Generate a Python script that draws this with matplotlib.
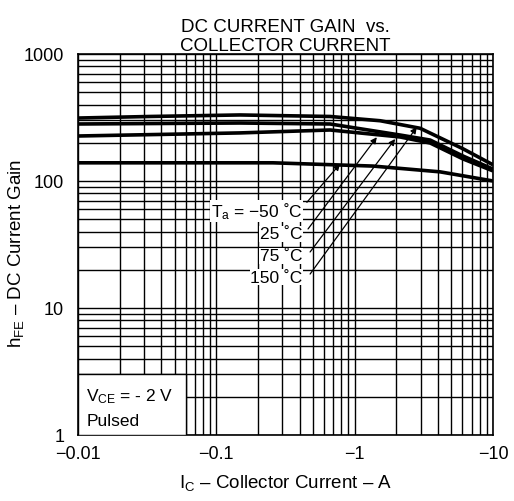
import matplotlib
matplotlib.use("Agg")
import matplotlib.pyplot as plt
from matplotlib.patches import Rectangle
from matplotlib.ticker import FixedLocator, NullFormatter

plt.rcParams['font.family'] = ['Liberation Sans', 'DejaVu Sans']
plt.rcParams['mathtext.fontset'] = 'custom'
plt.rcParams['mathtext.rm'] = 'Liberation Sans'
plt.rcParams['mathtext.it'] = 'Liberation Sans'

# ---- data ----
ic_150 = [0.01, 0.0332, 0.148, 0.664, 1.53, 2.97, 6.08, 10]
hfe_150 = [313, 322, 331, 322, 298, 260, 179, 134]

ic_75 = [0.01, 0.148, 0.664, 2.13, 3.51, 6.08, 10]
hfe_75 = [281, 286, 281, 230, 210, 157, 124]

ic_25 = [0.01, 0.148, 0.664, 2.13, 3.51, 6.08, 10]
hfe_25 = [226, 239, 252, 222, 199, 149, 120]

ic_m50 = [0.01, 0.257, 1.36, 4.14, 10]
hfe_m50 = [139, 139, 131, 118, 100]

temp_labels = ["T$_{\\mathrm{a}}$ = \u221250 \u02daC", "25 \u02daC", "75 \u02daC", "150 \u02daC"]
label_pos = [(0.42, 58), (0.42, 38.3), (0.42, 25.7), (0.42, 17.5)]
arrow_tail = [(0.451, 67.9), (0.46, 41.9), (0.476, 27.6), (0.476, 18.5)]
arrow_head = [(0.783, 136), (1.445, 221), (1.96, 214), (2.81, 265)]

xticks = [0.01, 0.1, 1, 10]
xticklabels = ["\u22120.01", "\u22120.1", "\u22121", "\u221210"]
yticks = [1, 10, 100, 1000]
yticklabels = ["1", "10", "100", "1000"]

fig = plt.figure(figsize=(5.14, 5.02), dpi=100)
ax = fig.add_axes([0.1518, 0.1315, 0.8074, 0.759])
ax.set_xscale('log')
ax.set_yscale('log')
ax.set_xlim(0.01, 10)
ax.set_ylim(1, 1000)

# grid at every minor/major log position
minor_x = [m * 10.0 ** e for e in (-2, -1, 0) for m in range(1, 10)] + [10]
minor_y = [m * 10.0 ** e for e in (0, 1, 2) for m in range(1, 10)] + [1000]
ax.xaxis.set_minor_locator(FixedLocator(minor_x))
ax.yaxis.set_minor_locator(FixedLocator(minor_y))
ax.xaxis.set_minor_formatter(NullFormatter())
ax.yaxis.set_minor_formatter(NullFormatter())
ax.grid(True, which='both', color='black', linewidth=1.0, zorder=1)
ax.set_axisbelow(True)

ax.set_xticks(xticks)
ax.set_xticklabels(xticklabels)
ax.set_yticks(yticks)
ax.set_yticklabels(yticklabels)
ax.tick_params(which='both', length=0, labelsize=13, colors='black')
ax.tick_params(axis='x', pad=7)
ax.tick_params(axis='y', pad=10)
for s in ax.spines.values():
    s.set_linewidth(1.2)
    s.set_color('black')

lw = 2.6
for xs, ys in [(ic_150, hfe_150), (ic_75, hfe_75), (ic_25, hfe_25), (ic_m50, hfe_m50)]:
    ax.plot(xs, ys, color='black', linewidth=lw, solid_capstyle='butt', zorder=3)

for txt, (lx, ly) in zip(temp_labels, label_pos):
    ax.text(lx, ly, txt, ha='right', va='center', fontsize=12.5, zorder=5,
            bbox=dict(facecolor='white', edgecolor='none', pad=0.5))

for (tx, ty), (hx, hy) in zip(arrow_tail, arrow_head):
    ax.annotate("", xy=(hx, hy), xytext=(tx, ty),
                arrowprops=dict(arrowstyle='-|>', color='black', lw=0.9,
                                mutation_scale=9, shrinkA=0, shrinkB=0),
                zorder=4)

# conditions box
ax.add_patch(Rectangle((0.01, 1), 0.06 - 0.01, 3 - 1, facecolor='white',
                       edgecolor='black', linewidth=1.0, zorder=4))
ax.text(0.0115, 2.05, "V$_{\\mathrm{CE}}$ = - 2 V", fontsize=12.5, ha='left', va='center', zorder=5)
ax.text(0.0115, 1.3, "Pulsed", fontsize=12.5, ha='left', va='center', zorder=5)

ax.set_title("DC CURRENT GAIN  vs.\nCOLLECTOR CURRENT", fontsize=13.5, pad=3, linespacing=1.12)
ax.set_xlabel("I$_{\\mathrm{C}}$ \u2013 Collector Current \u2013 A", fontsize=13.5)
ax.set_ylabel("h$_{\\mathrm{FE}}$ \u2013 DC Current Gain", fontsize=13.5)
ax.xaxis.set_label_coords(0.5, -0.098)
ax.yaxis.set_label_coords(-0.125, 0.48)

fig.savefig("out.png", dpi=100)
